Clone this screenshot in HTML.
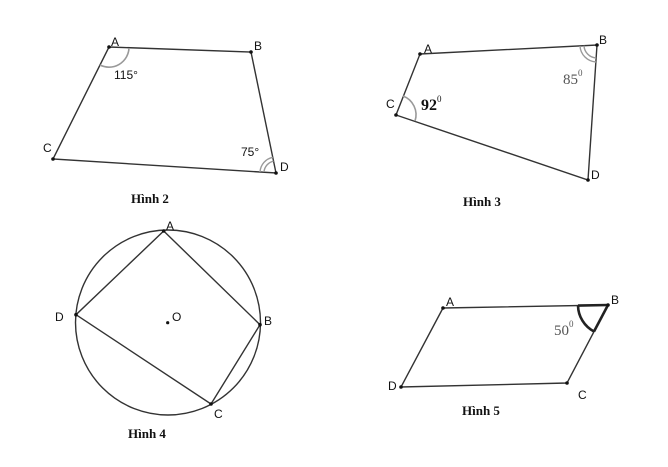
<!DOCTYPE html>
<html><head><meta charset="utf-8"><style>
html,body{margin:0;padding:0;background:#fff;}
svg{display:block}
.l{font-family:"Liberation Sans",sans-serif;font-size:12px;fill:#111}
.t{font-family:"Liberation Serif",serif;font-size:13px;font-weight:bold;fill:#111}
.s{font-family:"Liberation Serif",serif;font-size:15px;fill:#555}
</style></head><body>
<svg width="668" height="467" viewBox="0 0 668 467" xmlns="http://www.w3.org/2000/svg">
<g stroke="#333" stroke-width="1.4" fill="none">
<polygon points="109,47 251,52 276,173 53,159"/>
<path d="M129,48 A20,20 0 0 1 100,65" stroke="#999" stroke-width="1.6"/>
<path d="M264,172 A12,12 0 0 1 273.5,161.2" stroke="#999" stroke-width="1.4"/>
<path d="M260,172 A16,16 0 0 1 272.8,157.3" stroke="#999" stroke-width="1.4"/>
<polygon points="420,54 597,45 588,180 396,115"/>
<path d="M403,96 A20,20 0 0 1 415,121" stroke="#999" stroke-width="1.6"/>
<path d="M596.1,58 A13,13 0 0 1 584,45.7" stroke="#999" stroke-width="1.4"/>
<path d="M596,62 A17,17 0 0 1 580,46" stroke="#999" stroke-width="1.4"/>
<circle cx="168" cy="322.5" r="92.5"/>
<polygon points="163.7,231 260,324.7 211,404 76,314.7"/>
<polygon points="443,308 608,305 567,383 401,387"/>
<path d="M578,305.6 A30,30 0 0 0 594,331.5" stroke="#222" stroke-width="2.6"/>
<line x1="578" y1="305.6" x2="608" y2="305" stroke="#222" stroke-width="2.6"/>
<line x1="594" y1="331.5" x2="608" y2="305" stroke="#222" stroke-width="2.6"/>
</g>
<g fill="#111">
<circle cx="109" cy="47" r="1.8"/><circle cx="251" cy="52" r="1.8"/><circle cx="276" cy="173" r="1.8"/><circle cx="53" cy="159" r="1.8"/>
<circle cx="420" cy="54" r="1.8"/><circle cx="597" cy="45" r="1.8"/><circle cx="588" cy="180" r="1.8"/><circle cx="396" cy="115" r="1.8"/>
<circle cx="163.7" cy="231" r="1.8"/><circle cx="260" cy="324.7" r="1.8"/><circle cx="211" cy="404" r="1.8"/><circle cx="76" cy="314.7" r="1.8"/><circle cx="167.7" cy="322.7" r="1.6"/>
<circle cx="443" cy="308" r="1.8"/><circle cx="608" cy="305" r="1.8"/><circle cx="567" cy="383" r="1.8"/><circle cx="401" cy="387" r="1.8"/>
</g>
<text class="l" x="111" y="46">A</text><text class="l" x="254" y="50">B</text><text class="l" x="43" y="152">C</text><text class="l" x="280" y="171">D</text>
<text class="l" x="114" y="79">115°</text><text class="l" x="241" y="156">75°</text>
<text class="t" x="131" y="203">Hình 2</text>
<text class="l" x="424" y="53">A</text><text class="l" x="599" y="44">B</text><text class="l" x="386" y="108">C</text><text class="l" x="591" y="179">D</text>
<text x="421" y="110" style="font-family:'Liberation Serif',serif;font-size:16px;font-weight:bold;fill:#111">92</text><text x="437" y="102" style="font-family:'Liberation Serif',serif;font-size:9px;fill:#111">0</text>
<text class="s" x="563" y="84">85</text><text x="578" y="76" style="font-family:'Liberation Serif',serif;font-size:9px;fill:#555">0</text>
<text class="t" x="463" y="206">Hình 3</text>
<text class="l" x="166" y="230">A</text><text class="l" x="264" y="325">B</text><text class="l" x="214" y="418">C</text><text class="l" x="55" y="321">D</text><text class="l" x="172" y="321">O</text>
<text class="t" x="128" y="438">Hình 4</text>
<text class="l" x="446" y="306">A</text><text class="l" x="611" y="304">B</text><text class="l" x="578" y="399">C</text><text class="l" x="388" y="390">D</text>
<text class="s" x="554" y="335">50</text><text x="569" y="327" style="font-family:'Liberation Serif',serif;font-size:9px;fill:#555">0</text>
<text class="t" x="462" y="415">Hình 5</text>
</svg>
</body></html>
